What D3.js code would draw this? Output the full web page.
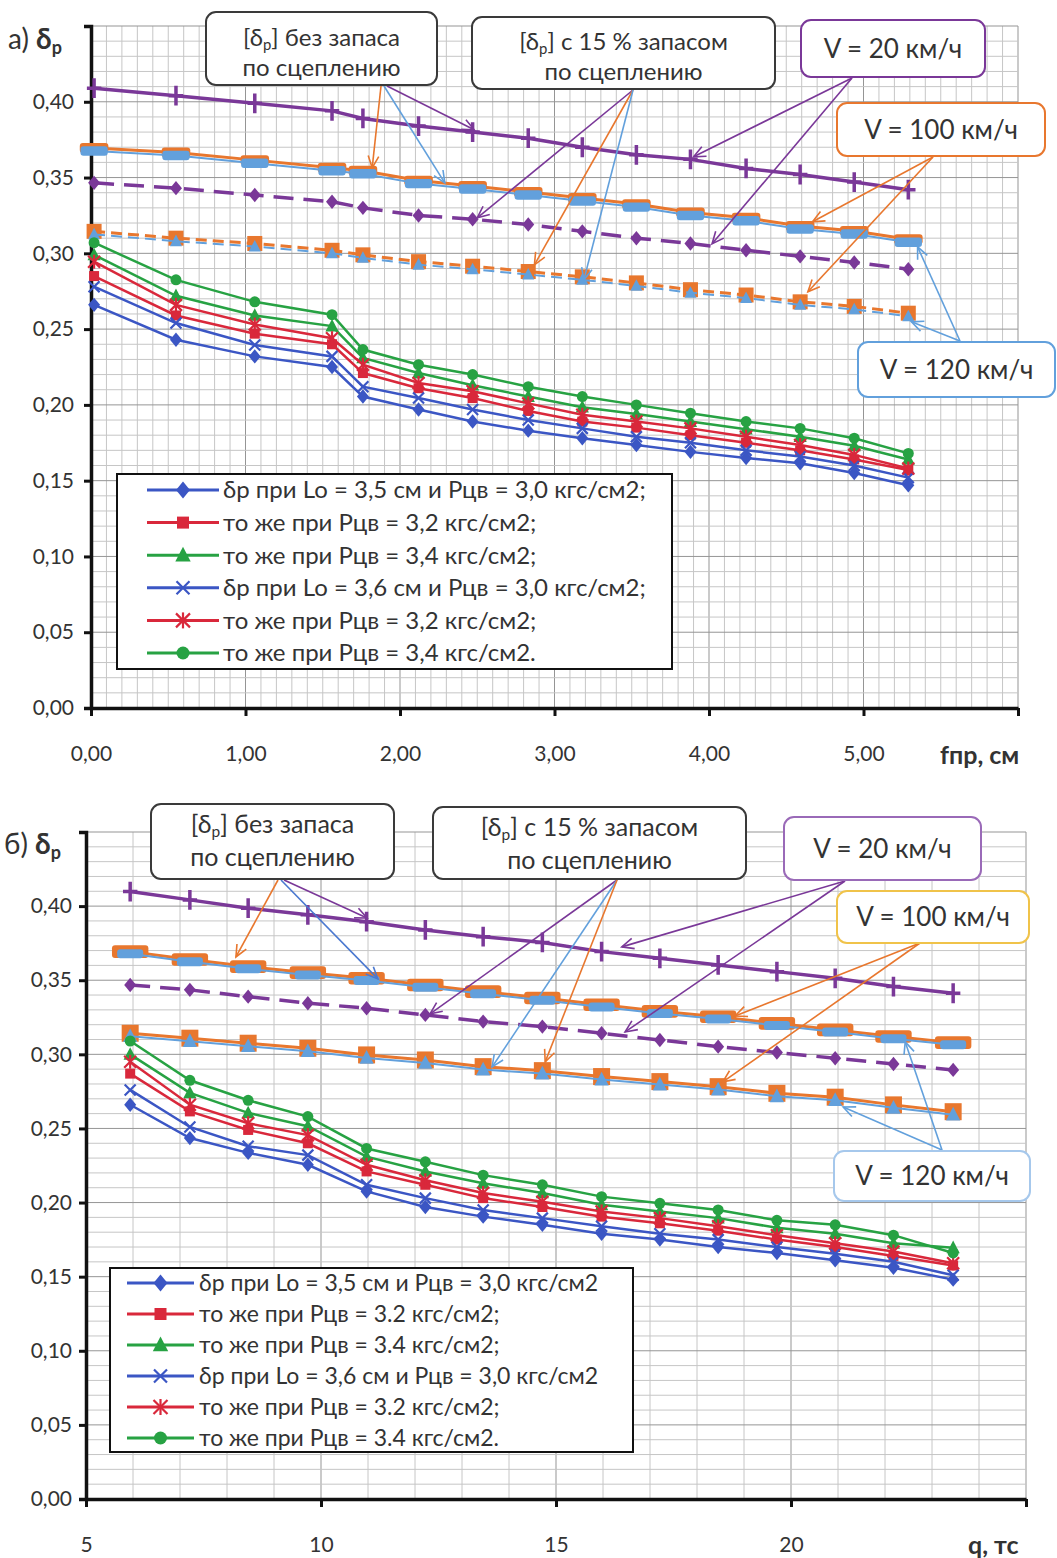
<!DOCTYPE html>
<html>
<head>
<meta charset="utf-8">
<script src="https://cdn.jsdelivr.net/npm/d3@7"></script>
<style>
  body { margin: 0; background: #fff; }
  text { font-family: Lato, "Open Sans", sans-serif; fill: #333; }
</style>
</head>
<body>
<svg id="chart" width="1057" height="1558"></svg>
<script>
// ---- data: panel a) delta_p vs f, cm ----
var topX = [0.02, 0.55, 1.06, 1.56, 1.76, 2.12, 2.47, 2.83, 3.18, 3.53, 3.88, 4.24, 4.59, 4.94, 5.29];
var topLo35P30 = [0.266, 0.243, 0.232, 0.225, 0.2055, 0.197, 0.189, 0.183, 0.178, 0.1735, 0.169, 0.165, 0.1615, 0.155, 0.147];
var topLo35P32 = [0.285, 0.259, 0.247, 0.240, 0.221, 0.211, 0.2045, 0.196, 0.189, 0.185, 0.180, 0.175, 0.170, 0.164, 0.157];
var topLo35P34 = [0.299, 0.272, 0.259, 0.252, 0.231, 0.221, 0.213, 0.2055, 0.1985, 0.194, 0.189, 0.184, 0.179, 0.173, 0.164];
var topLo36P30 = [0.278, 0.254, 0.2395, 0.232, 0.212, 0.2045, 0.197, 0.190, 0.1845, 0.179, 0.175, 0.170, 0.166, 0.160, 0.152];
var topLo36P32 = [0.2945, 0.266, 0.253, 0.244, 0.2265, 0.2145, 0.209, 0.201, 0.1935, 0.189, 0.1845, 0.179, 0.1735, 0.167, 0.158];
var topLo36P34 = [0.307, 0.2825, 0.268, 0.2595, 0.2365, 0.2265, 0.220, 0.212, 0.2055, 0.200, 0.1945, 0.189, 0.1845, 0.178, 0.168];
var topV20 = [0.409, 0.404, 0.399, 0.394, 0.389, 0.384, 0.380, 0.376, 0.370, 0.365, 0.362, 0.356, 0.352, 0.347, 0.342];
var topV100 = [0.3695, 0.3665, 0.3615, 0.3565, 0.3545, 0.348, 0.3445, 0.3405, 0.3365, 0.3325, 0.327, 0.3235, 0.318, 0.3148, 0.3093];
var topV120 = [0.3675, 0.3645, 0.3595, 0.3545, 0.3525, 0.346, 0.3425, 0.3385, 0.3345, 0.3305, 0.325, 0.3215, 0.316, 0.3128, 0.3073];
var topV20r = [0.3465, 0.343, 0.3385, 0.334, 0.330, 0.325, 0.3225, 0.319, 0.3145, 0.310, 0.3065, 0.302, 0.298, 0.294, 0.2895];
var topV100r = [0.3145, 0.310, 0.3065, 0.302, 0.299, 0.2945, 0.2915, 0.288, 0.2845, 0.2805, 0.276, 0.2725, 0.268, 0.265, 0.2605];
var topV120r = [0.3125, 0.308, 0.3045, 0.300, 0.297, 0.2925, 0.2895, 0.286, 0.2825, 0.2785, 0.274, 0.2705, 0.266, 0.263, 0.2585];
var topXTicks = [0, 1, 2, 3, 4, 5, 6];
var topXLabels = ["0,00", "1,00", "2,00", "3,00", "4,00", "5,00", ""];
var topLegend = [
  "δр при Lo = 3,5 см и Рцв = 3,0 кгс/см2;",
  "то же при Рцв = 3,2 кгс/см2;",
  "то же при Рцв = 3,4 кгс/см2;",
  "δр при Lo = 3,6 см и Рцв = 3,0 кгс/см2;",
  "то же при Рцв = 3,2 кгс/см2;",
  "то же при Рцв = 3,4 кгс/см2."
];

// ---- data: panel б) delta_p vs q, tc ----
var botX = [5.94, 7.21, 8.45, 9.72, 10.97, 12.22, 13.45, 14.71, 15.97, 17.21, 18.45, 19.70, 20.94, 22.18, 23.45];
var botLo35P30 = [0.266, 0.2435, 0.2335, 0.2255, 0.2075, 0.197, 0.1905, 0.185, 0.179, 0.175, 0.170, 0.166, 0.161, 0.156, 0.148];
var botLo35P32 = [0.287, 0.2615, 0.249, 0.240, 0.221, 0.212, 0.203, 0.197, 0.1905, 0.186, 0.181, 0.175, 0.170, 0.164, 0.1575];
var botLo35P34 = [0.300, 0.274, 0.2605, 0.2515, 0.231, 0.221, 0.213, 0.2065, 0.1985, 0.194, 0.1895, 0.183, 0.179, 0.1725, 0.1695];
var botLo36P30 = [0.276, 0.251, 0.238, 0.232, 0.212, 0.203, 0.195, 0.1895, 0.184, 0.179, 0.175, 0.170, 0.1655, 0.160, 0.151];
var botLo36P32 = [0.295, 0.266, 0.2535, 0.2455, 0.2255, 0.215, 0.2065, 0.2005, 0.194, 0.1895, 0.184, 0.178, 0.1725, 0.167, 0.159];
var botLo36P34 = [0.309, 0.2825, 0.269, 0.258, 0.2365, 0.2275, 0.2185, 0.212, 0.204, 0.1995, 0.195, 0.188, 0.185, 0.178, 0.166];
var botV20 = [0.4098, 0.4042, 0.3986, 0.3941, 0.3895, 0.3839, 0.3794, 0.3755, 0.3693, 0.3648, 0.3603, 0.3558, 0.3513, 0.3457, 0.3412];
var botV100 = [0.3693, 0.3640, 0.3592, 0.3551, 0.3513, 0.3468, 0.3423, 0.3380, 0.3335, 0.3290, 0.3254, 0.3209, 0.3165, 0.3120, 0.3079];
var botV120 = [0.3678, 0.3625, 0.3577, 0.3536, 0.3498, 0.3453, 0.3408, 0.3365, 0.3320, 0.3275, 0.3239, 0.3194, 0.3150, 0.3105, 0.3064];
var botV20r = [0.3468, 0.3435, 0.3389, 0.3345, 0.3311, 0.3266, 0.3221, 0.3187, 0.3142, 0.3097, 0.3052, 0.3012, 0.2974, 0.2935, 0.2895];
var botV100r = [0.3142, 0.3109, 0.3075, 0.3041, 0.2996, 0.2962, 0.2917, 0.2890, 0.2850, 0.2816, 0.2782, 0.2737, 0.2711, 0.2659, 0.2613];
var botV120r = [0.3122, 0.3089, 0.3055, 0.3021, 0.2976, 0.2942, 0.2897, 0.2870, 0.2830, 0.2796, 0.2762, 0.2717, 0.2691, 0.2639, 0.2593];
var botXTicks = [5, 10, 15, 20, 25];
var botXLabels = ["5", "10", "15", "20", ""];
var botLegend = [
  "δр при Lo = 3,5 см и Рцв = 3,0 кгс/см2",
  "то же при Рцв = 3.2 кгс/см2;",
  "то же при Рцв = 3.4 кгс/см2;",
  "δр при Lo = 3,6  см и Рцв = 3,0 кгс/см2",
  "то же при Рцв = 3.2 кгс/см2;",
  "то же при Рцв = 3.4 кгс/см2."
];

var yTicks = [0, 0.05, 0.10, 0.15, 0.20, 0.25, 0.30, 0.35, 0.40];

// ---- colours ----
var BLUE = "#3b56c4", RED = "#d9283b", GREEN = "#27a243";
var PURPLE = "#7a3898", ORANGE = "#e8772e", LBLUE = "#62a0dc";

var svg = d3.select("#chart");

function commaFmt(d) { return d3.format(".2f")(d).replace(".", ","); }

function marker(g, type, cx, cy, color, s) {
  var m = g.append("g").attr("transform", "translate(" + cx + "," + cy + ")");
  if (type === "diamond") {
    m.append("path").attr("d", "M0," + (-s * 0.6) + "L" + (s * 0.5) + ",0L0," + (s * 0.6) + "L" + (-s * 0.5) + ",0Z").attr("fill", color);
  } else if (type === "square") {
    m.append("rect").attr("x", -s / 2).attr("y", -s / 2).attr("width", s).attr("height", s).attr("fill", color);
  } else if (type === "triangle") {
    m.append("path").attr("d", "M0," + (-s * 0.6) + "L" + (s * 0.55) + "," + (s * 0.45) + "L" + (-s * 0.55) + "," + (s * 0.45) + "Z").attr("fill", color);
  } else if (type === "circle") {
    m.append("circle").attr("r", s / 2).attr("fill", color);
  } else if (type === "x" || type === "star") {
    var h = s / 2;
    m.append("path").attr("d", "M" + (-h) + "," + (-h) + "L" + h + "," + h + "M" + (-h) + "," + h + "L" + h + "," + (-h))
      .attr("stroke", color).attr("stroke-width", 2.2);
    if (type === "star") m.append("path").attr("d", "M0," + (-h - 1) + "L0," + (h + 1)).attr("stroke", color).attr("stroke-width", 2.2);
  } else if (type === "plus") {
    m.append("path").attr("d", "M0," + (-s * 0.55) + "L0," + (s * 0.55) + "M" + (-s * 0.4) + ",0L" + (s * 0.4) + ",0")
      .attr("stroke", color).attr("stroke-width", 3.5);
  } else if (type === "bar") {
    m.append("rect").attr("x", -s * 1.3).attr("y", -s * 0.45).attr("width", s * 2.6).attr("height", s * 0.9).attr("rx", 3).attr("fill", color);
  }
}

// text with "_{..}" subscripts
function richText(t, str, subSize) {
  var parts = str.split(/_\{(.*?)\}/);
  var shifted = false;
  parts.forEach(function (p, i) {
    if (p === "") return;
    var ts = t.append("tspan").text(p);
    if (i % 2 === 1) {
      ts.attr("font-size", subSize).attr("dy", 4);
      shifted = true;
    } else if (shifted) {
      ts.attr("dy", -4);
      shifted = false;
    }
  });
}

function drawPanel(p) {
  var x = d3.scaleLinear().domain(p.xDomain).range([p.left, p.right]);
  var y = d3.scaleLinear().domain([0, 0.45]).range([p.bottom, p.top]);
  var g = svg.append("g");

  // grid
  var nx = Math.round((p.xDomain[1] - p.xDomain[0]) / p.xMinor);
  var gx = d3.range(0, nx + 1).map(function (i) { return p.xDomain[0] + i * p.xMinor; });
  var gy = d3.range(0, 46).map(function (i) { return i * 0.01; });
  function isMajor(v, step) { return Math.abs(v / step - Math.round(v / step)) < 1e-6; }
  var grid = g.append("g");
  grid.selectAll(".gx").data(gx).enter().append("line")
    .attr("x1", function (d) { return x(d); }).attr("x2", function (d) { return x(d); })
    .attr("y1", y(0)).attr("y2", y(0.45))
    .attr("stroke", function (d) { return isMajor(d - p.xDomain[0], p.xMajor) ? "#959595" : "#c6c6c6"; })
    .attr("stroke-width", 1);
  grid.selectAll(".gy").data(gy).enter().append("line")
    .attr("x1", x(p.xDomain[0])).attr("x2", x(p.xDomain[1]))
    .attr("y1", function (d) { return y(d); }).attr("y2", function (d) { return y(d); })
    .attr("stroke", function (d) { return isMajor(d, 0.05) ? "#959595" : "#c6c6c6"; })
    .attr("stroke-width", 1);

  // axes
  var ya = g.append("g").attr("transform", "translate(" + p.left + ",0)")
    .call(d3.axisLeft(y).tickValues(yTicks).tickFormat(commaFmt).tickSize(7).tickSizeOuter(7).tickPadding(p.yPad));
  var xa = g.append("g").attr("transform", "translate(0," + p.bottom + ")")
    .call(d3.axisBottom(x).tickValues(p.xTicks).tickFormat(function (d, i) { return p.xLabels[i]; }).tickSize(8).tickSizeOuter(0).tickPadding(30));
  [ya, xa].forEach(function (a) {
    a.select(".domain").attr("stroke", "#111").attr("stroke-width", 3.5);
    a.selectAll(".tick line").attr("stroke", "#111").attr("stroke-width", 3);
    a.selectAll(".tick text").attr("font-size", 21).attr("font-family", "Lato, sans-serif").attr("fill", "#333");
  });

  var line = d3.line().x(function (d, i) { return x(p.xs[i]); }).y(function (d) { return y(d); });
  function series(vals, o) {
    var sg = g.append("g");
    sg.append("path").datum(vals).attr("d", line).attr("fill", "none")
      .attr("stroke", o.color).attr("stroke-width", o.width).attr("stroke-dasharray", o.dash || null);
    vals.forEach(function (v, i) { marker(sg, o.marker, x(p.xs[i]), y(v), o.mcolor || o.color, o.size); });
  }

  // reference limits
  series(p.v20, { color: PURPLE, width: 3.5, marker: "plus", size: 18 });
  series(p.v100, { color: ORANGE, width: 3, marker: "bar", size: p.barSize });
  series(p.v120, { color: LBLUE, width: 2, marker: "bar", size: p.barSize2 });
  series(p.v20r, { color: PURPLE, width: 3.5, marker: "diamond", size: 12, dash: "20,10" });
  series(p.v100r, { color: ORANGE, width: 3, marker: "square", size: p.sqSize, dash: p.rDash });
  series(p.v120r, { color: LBLUE, width: 2, marker: "triangle", size: p.sqSize - 4, dash: p.rDash });

  // computed curves
  p.curves.forEach(function (c) {
    series(c.vals, { color: c.color, width: 2.5, marker: c.marker, size: c.size });
  });

  // arrows
  p.arrows.forEach(function (a) {
    var x2 = x(a.tx), y2 = y(a.ty), x1 = a.sx, y1 = a.sy;
    var ang = Math.atan2(y2 - y1, x2 - x1), L = 13, w = 0.42;
    g.append("line").attr("x1", x1).attr("y1", y1).attr("x2", x2).attr("y2", y2)
      .attr("stroke", a.color).attr("stroke-width", 1.6);
    g.append("path")
      .attr("d", "M" + (x2 - L * Math.cos(ang - w)) + "," + (y2 - L * Math.sin(ang - w)) + "L" + x2 + "," + y2 +
        "L" + (x2 - L * Math.cos(ang + w)) + "," + (y2 - L * Math.sin(ang + w)))
      .attr("fill", "none").attr("stroke", a.color).attr("stroke-width", 1.6);
  });

  // callout boxes
  p.boxes.forEach(function (b) {
    g.append("rect").attr("x", b.x).attr("y", b.y).attr("width", b.w).attr("height", b.h).attr("rx", 10)
      .attr("fill", "#fff").attr("stroke", b.stroke).attr("stroke-width", 2);
    b.lines.forEach(function (ln, i) {
      var t = g.append("text").attr("x", b.x + b.w / 2).attr("y", b.base[i]).attr("text-anchor", "middle")
        .attr("font-size", b.font).attr("font-family", b.family).attr("fill", "#222");
      richText(t, ln, b.font * 0.62);
    });
  });

  // legend
  var lg = p.legend;
  g.append("rect").attr("x", lg.x).attr("y", lg.y).attr("width", lg.w).attr("height", lg.h)
    .attr("fill", "#fff").attr("stroke", "#111").attr("stroke-width", 2);
  p.curves.forEach(function (c, i) {
    var ry = lg.y + lg.first + i * lg.step;
    g.append("line").attr("x1", lg.lx1).attr("x2", lg.lx2).attr("y1", ry).attr("y2", ry)
      .attr("stroke", c.color).attr("stroke-width", 3);
    marker(g, c.marker, (lg.lx1 + lg.lx2) / 2, ry, c.color, c.size + 2);
    g.append("text").attr("x", lg.tx).attr("y", ry).attr("dy", "0.35em")
      .attr("font-size", lg.font).attr("fill", "#333").text(p.legendLabels[i]);
  });

  // titles
  var tt = g.append("text").attr("x", p.titleX).attr("y", p.titleY).attr("font-size", 28).attr("fill", "#222");
  tt.append("tspan").text(p.titleLetter + " ");
  tt.append("tspan").attr("font-weight", "bold").text("δ");
  tt.append("tspan").attr("font-weight", "bold").attr("font-size", 18).attr("dy", 5).text("р");
  g.append("text").attr("x", p.xTitleX).attr("y", p.xTitleY).attr("font-size", 25).attr("font-weight", "bold")
    .attr("font-family", "'Liberation Sans', Arial, sans-serif").attr("fill", "#222").text(p.xTitle);
}

function curveSet(a, b, c, d, e, f) {
  return [
    { vals: a, color: BLUE, marker: "diamond", size: 12 },
    { vals: b, color: RED, marker: "square", size: 10 },
    { vals: c, color: GREEN, marker: "triangle", size: 12 },
    { vals: d, color: BLUE, marker: "x", size: 11 },
    { vals: e, color: RED, marker: "star", size: 12 },
    { vals: f, color: GREEN, marker: "circle", size: 11 }
  ];
}

var TOPFONT = "Lato, sans-serif", BOXFONT2 = "'Liberation Sans', Arial, sans-serif";

drawPanel({
  xDomain: [0, 6], left: 91, right: 1018, top: 26, bottom: 708, xMinor: 0.1, xMajor: 1, yPad: 10,
  xTicks: topXTicks, xLabels: topXLabels, xs: topX,
  v20: topV20, v100: topV100, v120: topV120, v20r: topV20r, v100r: topV100r, v120r: topV120r,
  barSize: 11, barSize2: 10.5, sqSize: 15, rDash: "11,6",
  curves: curveSet(topLo35P30, topLo35P32, topLo35P34, topLo36P30, topLo36P32, topLo36P34),
  legendLabels: topLegend,
  legend: { x: 117, y: 474, w: 555, h: 195, first: 16, step: 32.6, lx1: 147, lx2: 219, tx: 223, font: 24 },
  boxes: [
    { x: 206, y: 12, w: 231, h: 73, stroke: "#3a3a3a", font: 24, family: TOPFONT, lines: ["[δ_{р}] без запаса", "по сцеплению"], base: [46, 76] },
    { x: 472, y: 17, w: 303, h: 72, stroke: "#3a3a3a", font: 24, family: TOPFONT, lines: ["[δ_{р}] с 15 % запасом", "по сцеплению"], base: [50, 80] },
    { x: 801, y: 20, w: 184, h: 57, stroke: PURPLE, font: 26, family: TOPFONT, lines: ["V = 20 км/ч"], base: [58] },
    { x: 837, y: 103, w: 208, h: 53, stroke: ORANGE, font: 26, family: TOPFONT, lines: ["V = 100 км/ч"], base: [139] },
    { x: 858, y: 342, w: 197, h: 55, stroke: LBLUE, font: 26, family: TOPFONT, lines: ["V = 120 км/ч"], base: [379] }
  ],
  arrows: [
    { sx: 381, sy: 86, tx: 1.82, ty: 0.3564, color: ORANGE },
    { sx: 384, sy: 86, tx: 2.29, ty: 0.3465, color: LBLUE },
    { sx: 387, sy: 86, tx: 2.48, ty: 0.3815, color: PURPLE },
    { sx: 633, sy: 90, tx: 2.50, ty: 0.3234, color: PURPLE },
    { sx: 633, sy: 90, tx: 2.87, ty: 0.2924, color: ORANGE },
    { sx: 633, sy: 90, tx: 3.19, ty: 0.2825, color: LBLUE },
    { sx: 852, sy: 78, tx: 3.90, ty: 0.3637, color: PURPLE },
    { sx: 852, sy: 78, tx: 4.02, ty: 0.3063, color: PURPLE },
    { sx: 933, sy: 157, tx: 4.67, ty: 0.3208, color: ORANGE },
    { sx: 933, sy: 157, tx: 4.64, ty: 0.2746, color: ORANGE },
    { sx: 960, sy: 341, tx: 5.35, ty: 0.3043, color: LBLUE },
    { sx: 960, sy: 341, tx: 5.31, ty: 0.2548, color: LBLUE }
  ],
  titleLetter: "а)", titleX: 8, titleY: 49,
  xTitle: "fпр, см", xTitleX: 940, xTitleY: 764
});

drawPanel({
  xDomain: [5, 25], left: 86, right: 1026, top: 832, bottom: 1499, xMinor: 1, xMajor: 5, yPad: 7,
  xTicks: botXTicks, xLabels: botXLabels, xs: botX,
  v20: botV20, v100: botV100, v120: botV120, v20r: botV20r, v100r: botV100r, v120r: botV120r,
  barSize: 14, barSize2: 10, sqSize: 17, rDash: null,
  curves: curveSet(botLo35P30, botLo35P32, botLo35P34, botLo36P30, botLo36P32, botLo36P34),
  legendLabels: botLegend,
  legend: { x: 110, y: 1268, w: 523, h: 184, first: 15, step: 31, lx1: 127, lx2: 194, tx: 199, font: 23 },
  boxes: [
    { x: 151, y: 804, w: 243, h: 75, stroke: "#3a3a3a", font: 25, family: BOXFONT2, lines: ["[δ_{р}] без запаса", "по сцеплению"], base: [833, 866] },
    { x: 433, y: 807, w: 313, h: 72, stroke: "#3a3a3a", font: 25, family: BOXFONT2, lines: ["[δ_{р}] с 15 % запасом", "по сцеплению"], base: [836, 869] },
    { x: 784, y: 817, w: 197, h: 63, stroke: "#9a6ab8", font: 26, family: TOPFONT, lines: ["V = 20 км/ч"], base: [858] },
    { x: 837, y: 891, w: 192, h: 52, stroke: "#f0c34a", font: 26, family: TOPFONT, lines: ["V = 100 км/ч"], base: [926] },
    { x: 834, y: 1151, w: 196, h: 50, stroke: "#a6c8ec", font: 26, family: TOPFONT, lines: ["V = 120 км/ч"], base: [1185] }
  ],
  arrows: [
    { sx: 278, sy: 880, tx: 8.19, ty: 0.3657, color: ORANGE },
    { sx: 281, sy: 880, tx: 11.21, ty: 0.3509, color: "#4a78d0" },
    { sx: 284, sy: 880, tx: 10.98, ty: 0.392, color: PURPLE },
    { sx: 617, sy: 880, tx: 12.32, ty: 0.3273, color: PURPLE },
    { sx: 617, sy: 880, tx: 13.64, ty: 0.2915, color: LBLUE },
    { sx: 617, sy: 880, tx: 14.77, ty: 0.2949, color: ORANGE },
    { sx: 845, sy: 881, tx: 16.40, ty: 0.3725, color: PURPLE },
    { sx: 845, sy: 881, tx: 16.47, ty: 0.3151, color: PURPLE },
    { sx: 920, sy: 943, tx: 18.81, ty: 0.3259, color: ORANGE },
    { sx: 920, sy: 943, tx: 18.55, ty: 0.2814, color: ORANGE },
    { sx: 942, sy: 1150, tx: 21.11, ty: 0.2645, color: LBLUE },
    { sx: 942, sy: 1150, tx: 22.43, ty: 0.3084, color: LBLUE }
  ],
  titleLetter: "б)", titleX: 4, titleY: 854,
  xTitle: "q, тс", xTitleX: 968, xTitleY: 1554
});
</script>
</body>
</html>
